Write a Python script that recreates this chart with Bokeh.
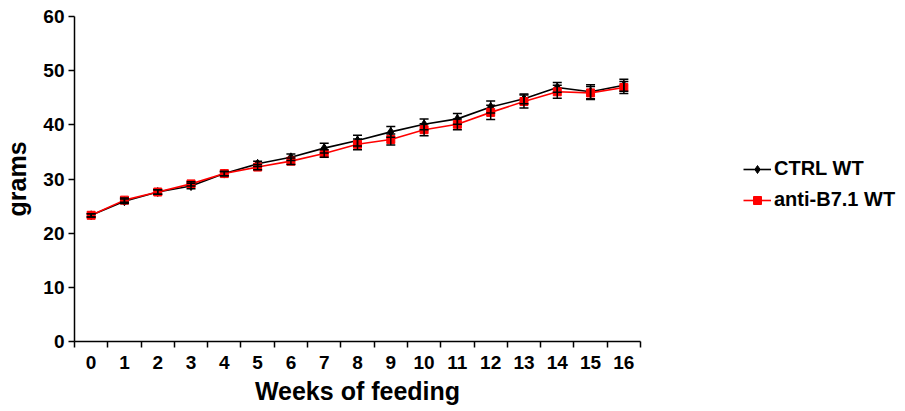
from bokeh.plotting import figure
from bokeh.models import (Range1d, FixedTicker, ColumnDataSource, Whisker, TeeHead,
                          Legend, LegendItem)
from bokeh.embed import file_html
from bokeh.resources import INLINE

weeks = list(range(17))
ctrl_mean = [23.3, 25.9, 27.6, 28.7, 31.0, 32.8, 34.0, 35.7, 37.1, 38.7, 40.1, 41.1, 43.3, 44.8, 46.9, 46.1, 47.3]
ctrl_sem = [0.3, 0.4, 0.4, 0.5, 0.4, 0.5, 0.6, 0.9, 1.0, 1.0, 1.0, 1.0, 1.1, 0.9, 0.9, 1.3, 1.1]
anti_mean = [23.3, 26.1, 27.6, 29.1, 31.0, 32.2, 33.3, 34.7, 36.4, 37.3, 39.1, 40.1, 42.3, 44.3, 46.1, 45.9, 46.9]
anti_sem = [0.3, 0.4, 0.4, 0.4, 0.4, 0.5, 0.6, 0.7, 1.0, 1.0, 1.1, 1.0, 1.3, 1.2, 1.2, 1.2, 1.1]
y_ticks = [0, 10, 20, 30, 40, 50, 60]
series_labels = ["CTRL WT", "anti-B7.1 WT"]

FONT = "Liberation Sans"

p = figure(frame_width=566, frame_height=325, output_backend="svg", toolbar_location=None,
           x_range=Range1d(-0.5, 16.5), y_range=Range1d(0, 60),
           min_border_left=65, min_border_top=16, min_border_bottom=0, min_border_right=258)
p.outline_line_color = None
p.xgrid.visible = False
p.ygrid.visible = False

# x axis: labels at centers, ticks at band boundaries
bounds = [w - 0.5 for w in weeks] + [16.5]
p.xaxis.ticker = FixedTicker(ticks=weeks, minor_ticks=bounds)
p.xaxis.major_tick_line_color = None
p.xaxis.major_tick_out = 0
p.xaxis.major_tick_in = 0
p.xaxis.minor_tick_out = 6
p.xaxis.minor_tick_in = 0
p.xaxis.minor_tick_line_color = "black"
p.xaxis.minor_tick_line_width = 1.5
p.xaxis.major_label_standoff = 8
p.xaxis.axis_label = "Weeks of feeding"
p.xaxis.axis_label_standoff = 5

p.yaxis.ticker = FixedTicker(ticks=y_ticks)
p.yaxis.minor_tick_line_color = None
p.yaxis.major_tick_out = 6
p.yaxis.major_tick_in = 0
p.yaxis.major_label_standoff = 4
p.yaxis.axis_label = "grams"
p.yaxis.axis_label_standoff = 9

for ax in (p.xaxis, p.yaxis):
    ax.axis_line_color = "black"
    ax.axis_line_width = 1.5
    ax.major_tick_line_width = 1.5
    ax.major_label_text_font = FONT
    ax.major_label_text_font_style = "bold"
    ax.major_label_text_font_size = "19px"
    ax.major_label_text_color = "black"
    ax.axis_label_text_font = FONT
    ax.axis_label_text_font_style = "bold"
    ax.axis_label_text_font_size = "25px"
    ax.axis_label_text_color = "black"

src_c = ColumnDataSource(dict(x=weeks, y=ctrl_mean,
                              lo=[m - s for m, s in zip(ctrl_mean, ctrl_sem)],
                              hi=[m + s for m, s in zip(ctrl_mean, ctrl_sem)]))
src_a = ColumnDataSource(dict(x=weeks, y=anti_mean,
                              lo=[m - s for m, s in zip(anti_mean, anti_sem)],
                              hi=[m + s for m, s in zip(anti_mean, anti_sem)]))

l1 = p.line("x", "y", source=src_c, line_color="black", line_width=1.6)
w1 = Whisker(source=src_c, base="x", upper="hi", lower="lo", line_color="black", line_width=1.5,
             upper_head=TeeHead(size=9, line_color="black", line_width=1.5),
             lower_head=TeeHead(size=9, line_color="black", line_width=1.5), level="glyph")
p.add_layout(w1)
m1 = p.scatter("x", "y", source=src_c, marker="diamond", size=9, fill_color="black", line_color="black")

l2 = p.line("x", "y", source=src_a, line_color="red", line_width=1.6)
w2 = Whisker(source=src_a, base="x", upper="hi", lower="lo", line_color="black", line_width=1.5,
             upper_head=TeeHead(size=9, line_color="black", line_width=1.5),
             lower_head=TeeHead(size=9, line_color="black", line_width=1.5), level="glyph")
p.add_layout(w2)
m2 = p.scatter("x", "y", source=src_a, marker="square", size=8, fill_color="red", line_color="red")

legend = Legend(items=[LegendItem(label=series_labels[0], renderers=[l1, m1]),
                       LegendItem(label=series_labels[1], renderers=[l2, m2])],
                location=(103, 130), padding=0, margin=0, spacing=8,
                glyph_width=28, glyph_height=20, label_height=20, label_standoff=3,
                border_line_color=None, background_fill_alpha=0,
                label_text_font=FONT, label_text_font_style="bold",
                label_text_font_size="20px", label_text_color="black")
p.add_layout(legend, "right")

open("out.html", "w").write(file_html(p, INLINE))
